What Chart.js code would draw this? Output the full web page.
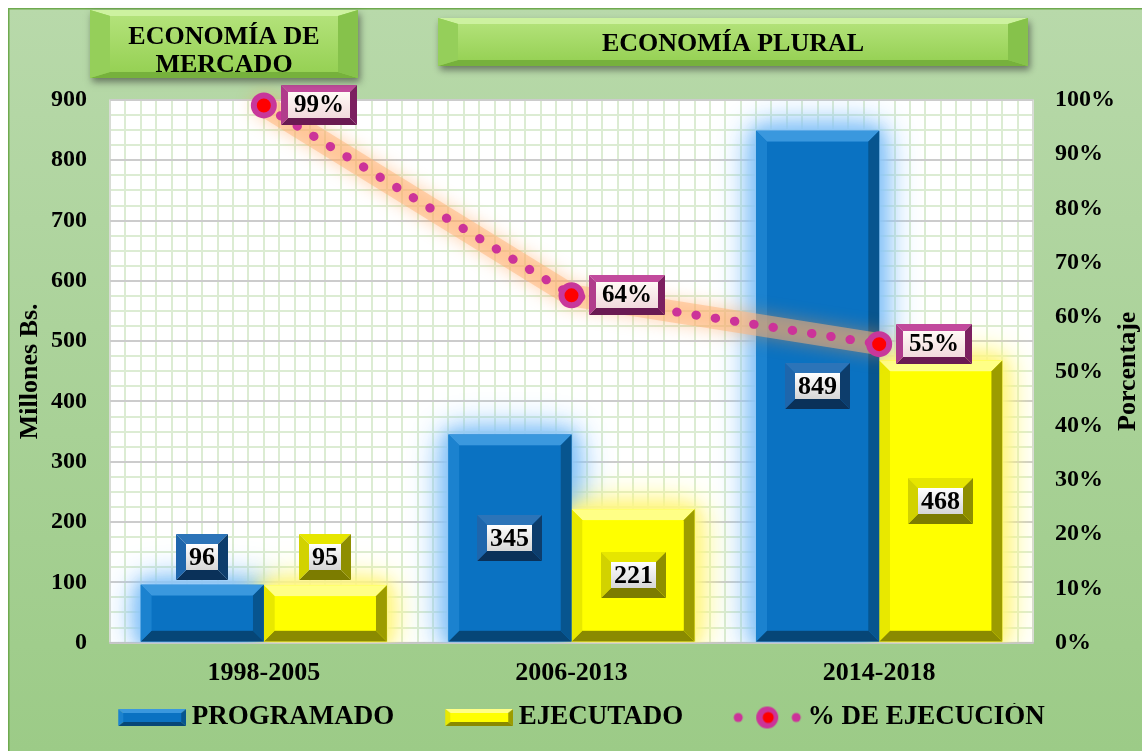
<!DOCTYPE html>
<html>
<head>
<meta charset="utf-8">
<script src="https://cdn.jsdelivr.net/npm/chart.js@4.4.1/dist/chart.umd.min.js"></script>
<style>
html,body{margin:0;padding:0;background:#ffffff;}
#wrap{width:1142px;height:751px;position:relative;}
canvas{display:block;}
</style>
</head>
<body>
<div id="wrap"><canvas id="c" width="1142" height="751"></canvas></div>
<script>
// ---------------- data ----------------
const categories = ['1998-2005', '2006-2013', '2014-2018'];
const programado = [96, 345, 849];
const ejecutado = [95, 221, 468];
const ejecucion = [0.99, 0.64, 0.55];
const seriesNames = ['PROGRAMADO', 'EJECUTADO', '% DE EJECUCIÓN'];
const leftAxisTitle = 'Millones Bs.';
const rightAxisTitle = 'Porcentaje';
const bannerTexts = [['ECONOMÍA DE', 'MERCADO'], ['ECONOMÍA PLURAL']];

// ---------------- styling ----------------
const FONT = '"Liberation Serif", "Times New Roman", serif';
const BLUE = {face:'#0a72c2', top:'#3a98de', left:'#1b82cf', right:'#07558f', bottom:'#064677'};
const YELLOW = {face:'#ffff00', top:'#ffff86', left:'#e8e800', right:'#9c9c00', bottom:'#8a8a00'};
const BLUE_LBL = {top:'#2c74b8', left:'#1e66ac', right:'#0d3d6c', bottom:'#0a3159'};
const YEL_LBL = {top:'#e6e600', left:'#d2d200', right:'#8e8e00', bottom:'#7c7c00'};
const MAG_LBL = {top:'#c24a9c', left:'#b13c8c', right:'#7c2060', bottom:'#6a1a52'};
const GREEN_BN = {top:'#cdf2a0', left:'#95cf5a', right:'#86c24b', bottom:'#76b13c'};
const MAGENTA = '#cc3399';
const LEAD = 58;          // transparent lead inside legend icons (item spacing)
const ICON_OVER = 8;      // icon overhang so text sits close to the swatch
const LEGEND_SHIFT = 26;  // recentre the visible legend row

function poly(ctx, pts, fill){
  ctx.beginPath();
  ctx.moveTo(pts[0][0], pts[0][1]);
  for (let i = 1; i < pts.length; i++) ctx.lineTo(pts[i][0], pts[i][1]);
  ctx.closePath();
  ctx.fillStyle = fill; ctx.fill();
}
function bevelBox(ctx, l, t, w, h, bx, by, c, face){
  const r = l + w, b = t + h;
  bx = Math.min(bx, w / 2); by = Math.min(by, h / 2);
  poly(ctx, [[l,t],[r,t],[r-bx,t+by],[l+bx,t+by]], c.top);
  poly(ctx, [[l,b],[r,b],[r-bx,b-by],[l+bx,b-by]], c.bottom);
  poly(ctx, [[l,t],[l+bx,t+by],[l+bx,b-by],[l,b]], c.left);
  poly(ctx, [[r,t],[r-bx,t+by],[r-bx,b-by],[r,b]], c.right);
  ctx.fillStyle = face || c.face;
  ctx.fillRect(l + bx, t + by, w - 2 * bx, h - 2 * by);
}
function labelBox(ctx, cx, cy, text, fontSize, colors, faceTop, faceBot, bev, padX, h){
  ctx.save();
  ctx.font = 'bold ' + fontSize + 'px ' + FONT;
  const tw = ctx.measureText(text).width;
  const w = Math.round(tw + 2 * padX + 2 * bev);
  const l = Math.round(cx - w / 2), t = Math.round(cy - h / 2);
  const g = ctx.createLinearGradient(0, t + bev, 0, t + h - bev);
  g.addColorStop(0, faceTop); g.addColorStop(1, faceBot);
  bevelBox(ctx, l, t, w, h, bev, bev, colors, g);
  ctx.fillStyle = '#000';
  ctx.textAlign = 'center'; ctx.textBaseline = 'middle';
  ctx.fillText(text, l + w / 2, t + h / 2 + 1);
  ctx.restore();
  return {w, h};
}

// legend icons
function barIcon(c){
  const cv = document.createElement('canvas');
  cv.width = LEAD + 68; cv.height = 17;
  bevelBox(cv.getContext('2d'), LEAD, 0, 68, 17, 5, 4, c);
  return cv;
}
function lineIcon(){
  const cv = document.createElement('canvas');
  cv.width = LEAD + 68; cv.height = 28;
  const x = cv.getContext('2d');
  x.fillStyle = MAGENTA;
  [LEAD + 4, LEAD + 62].forEach(px => { x.beginPath(); x.arc(px, 14, 4.5, 0, Math.PI * 2); x.fill(); });
  x.beginPath(); x.arc(LEAD + 33, 14, 11, 0, Math.PI * 2); x.fill();
  x.fillStyle = '#ff0000';
  x.beginPath(); x.arc(LEAD + 34, 14, 5.5, 0, Math.PI * 2); x.fill();
  return cv;
}
const legendIcons = [barIcon(BLUE), barIcon(YELLOW), lineIcon()];

// ---------------- plugins ----------------
const backgroundPlugin = {
  id: 'bgPlot',
  afterLayout(chart){
    if (chart.legend) { chart.legend.left -= LEGEND_SHIFT; chart.legend.right -= LEGEND_SHIFT; }
  },
  beforeDraw(chart){
    const {ctx, chartArea: a, width, height} = chart;
    ctx.save();
    ctx.fillStyle = '#ffffff'; ctx.fillRect(0, 0, width, height);
    const g = ctx.createLinearGradient(0, 8, 0, height);
    g.addColorStop(0, '#b8d9aa'); g.addColorStop(1, '#9ccb87');
    ctx.fillStyle = g; ctx.fillRect(8, 8, width - 8, height - 8);
    ctx.strokeStyle = '#6faa4f'; ctx.lineWidth = 1.5;
    ctx.strokeRect(8.75, 8.75, width, height);
    // plot area
    ctx.fillStyle = '#ffffff'; ctx.fillRect(a.left, a.top, a.width, a.height);
    ctx.strokeStyle = '#dcecd3'; ctx.lineWidth = 2;
    const ys = chart.scales.y;
    for (let v = 0; v <= ys.max; v += 25) {
      const py = Math.round(ys.getPixelForValue(v));
      ctx.beginPath(); ctx.moveTo(a.left, py); ctx.lineTo(a.right, py); ctx.stroke();
    }
    const n = categories.length * 20;
    for (let k = 0; k <= n; k++) {
      const px = Math.round(a.left + k * a.width / n);
      ctx.beginPath(); ctx.moveTo(px, a.top); ctx.lineTo(px, a.bottom); ctx.stroke();
    }
    ctx.strokeStyle = '#d6d6d6'; ctx.lineWidth = 1.5;
    ctx.strokeRect(a.left, a.top, a.width, a.height);
    ctx.restore();
  }
};

const glowPlugin = {
  id: 'glow',
  beforeDatasetsDraw(chart){
    const ctx = chart.ctx, a = chart.chartArea;
    ctx.save();
    ctx.beginPath(); ctx.rect(a.left, a.top, a.width, a.height); ctx.clip();
    chart.data.datasets.forEach((ds, di) => {
      if (ds.type === 'line') return;
      const meta = chart.getDatasetMeta(di);
      meta.data.forEach(el => {
        const p = el.getProps(['x', 'y', 'base', 'width'], true);
        const t = Math.min(p.y, p.base), h = Math.abs(p.base - p.y);
        ctx.save();
        ctx.shadowColor = ds.glowColor; ctx.fillStyle = ds.glowColor;
        [40, 30, 20, 12].forEach(bl => {
          ctx.shadowBlur = bl;
          ctx.fillRect(p.x - p.width / 2, t, p.width, h);
        });
        ctx.restore();
      });
    });
    ctx.restore();
  },
  beforeDatasetDraw(chart, args){
    const ds = chart.data.datasets[args.index];
    if (ds.type !== 'line') return;
    const ctx = chart.ctx;
    const pts = args.meta.data;
    ctx.save();
    ctx.strokeStyle = 'rgba(255,180,120,0.5)';
    ctx.lineWidth = 22; ctx.lineCap = 'round'; ctx.lineJoin = 'round';
    ctx.shadowColor = 'rgba(255,150,60,0.85)'; ctx.shadowBlur = 18;
    ctx.beginPath();
    pts.forEach((p, i) => i ? ctx.lineTo(p.x, p.y) : ctx.moveTo(p.x, p.y));
    ctx.stroke();
    ctx.restore();
  },
  afterDatasetDraw(chart, args){
    const ctx = chart.ctx;
    const ds = chart.data.datasets[args.index];
    if (ds.type === 'line') return;
    const c = ds.bevelColors;
    args.meta.data.forEach(el => {
      const p = el.getProps(['x', 'y', 'base', 'width'], true);
      const l = p.x - p.width / 2, t = Math.min(p.y, p.base);
      const h = Math.abs(p.base - p.y);
      bevelBox(ctx, l, t, p.width, h, 11, 11, c);
    });
  }
};

const labelsPlugin = {
  id: 'valueLabels',
  afterDatasetsDraw(chart){
    const ctx = chart.ctx;
    chart.data.datasets.forEach((ds, di) => {
      const meta = chart.getDatasetMeta(di);
      meta.data.forEach((el, i) => {
        if (ds.type === 'line') {
          const txt = Math.round(ds.data[i] * 100) + '%';
          ctx.save();
          ctx.font = 'bold 25px ' + FONT;
          const tw = ctx.measureText(txt).width;
          ctx.restore();
          const w = tw + 12 + 14;
          labelBox(ctx, el.x + 17 + w / 2, el.y, txt, 25, MAG_LBL, '#fffaf6', '#f2dadd', 7, 6, 40);
        } else {
          const p = el.getProps(['x', 'y', 'base'], true);
          const top = Math.min(p.y, p.base), h = Math.abs(p.base - p.y);
          const cy = h < 70 ? top - 5 - 23 : top + h / 2;
          labelBox(ctx, p.x, cy, String(ds.data[i]), 26, ds.labelColors, '#ffffff', '#d6d6d6', 10, 3, 46);
        }
      });
    });
  }
};

const decorPlugin = {
  id: 'decor',
  afterDraw(chart){
    const ctx = chart.ctx;
    const a = chart.chartArea;
    const banners = [
      {x: 90, y: 10, w: 268, h: 68, dy: 7, lines: bannerTexts[0]},
      {x: 438, y: 18, w: 590, h: 48, dy: 2, lines: bannerTexts[1]}
    ];
    banners.forEach(bn => {
      ctx.save();
      ctx.shadowColor = 'rgba(40,40,40,0.55)'; ctx.shadowBlur = 7;
      ctx.shadowOffsetX = 2; ctx.shadowOffsetY = 4;
      ctx.fillStyle = '#92d050'; ctx.fillRect(bn.x, bn.y, bn.w, bn.h);
      ctx.restore();
      const g = ctx.createLinearGradient(0, bn.y, 0, bn.y + bn.h);
      g.addColorStop(0, '#b6e47e'); g.addColorStop(1, '#93cf50');
      bevelBox(ctx, bn.x, bn.y, bn.w, bn.h, 20, 6, GREEN_BN, g);
      ctx.save();
      ctx.fillStyle = '#000';
      ctx.font = 'bold 26px ' + FONT;
      ctx.textAlign = 'center'; ctx.textBaseline = 'middle';
      const lh = 28;
      const cy = bn.y + bn.h / 2 + bn.dy;
      bn.lines.forEach((ln, i) => {
        ctx.fillText(ln, bn.x + bn.w / 2, cy + (i - (bn.lines.length - 1) / 2) * lh);
      });
      ctx.restore();
    });
    ctx.save();
    ctx.fillStyle = '#000';
    ctx.font = 'bold 26px ' + FONT;
    ctx.textAlign = 'center'; ctx.textBaseline = 'middle';
    const cy = (a.top + a.bottom) / 2;
    ctx.save();
    ctx.translate(30, cy); ctx.rotate(-Math.PI / 2);
    ctx.fillText(leftAxisTitle, 0, 0);
    ctx.restore();
    ctx.translate(chart.width - 14, cy); ctx.rotate(-Math.PI / 2);
    ctx.fillText(rightAxisTitle, 0, 0);
    ctx.restore();
  }
};

// ---------------- chart ----------------
const tickFont = {family: FONT, size: 24, weight: 'bold'};
new Chart(document.getElementById('c'), {
  type: 'bar',
  data: {
    labels: categories,
    datasets: [
      {label: seriesNames[0], data: programado, backgroundColor: BLUE.face, yAxisID: 'y', order: 1,
       categoryPercentage: 0.8, barPercentage: 1.0, glowColor: 'rgba(140,198,248,1)',
       bevelColors: BLUE, labelColors: BLUE_LBL, borderWidth: 0},
      {label: seriesNames[1], data: ejecutado, backgroundColor: YELLOW.face, yAxisID: 'y', order: 2,
       categoryPercentage: 0.8, barPercentage: 1.0, glowColor: 'rgba(255,246,130,1)',
       bevelColors: YELLOW, labelColors: YEL_LBL, borderWidth: 0},
      {type: 'line', label: seriesNames[2], data: ejecucion, yAxisID: 'y1', order: 0,
       borderColor: MAGENTA, borderWidth: 9, borderDash: [0.5, 19], borderCapStyle: 'round',
       pointRadius: 10, pointHoverRadius: 10, pointBorderWidth: 6, pointBackgroundColor: '#ff0000',
       pointBorderColor: '#c8379b', fill: false, tension: 0, clip: false}
    ]
  },
  options: {
    responsive: false,
    animation: false,
    devicePixelRatio: 1,
    layout: {padding: {left: 28, right: 5, top: 100, bottom: 10}},
    plugins: {
      tooltip: {enabled: false},
      legend: {
        position: 'bottom',
        labels: {
          usePointStyle: true,
          pointStyleWidth: LEAD + 68 - 2 * ICON_OVER,
          padding: 1,
          color: '#000',
          font: {family: FONT, size: 27, weight: 'bold'},
          generateLabels(chart){
            const items = Chart.defaults.plugins.legend.labels.generateLabels(chart);
            items.forEach(it => { it.pointStyle = legendIcons[it.datasetIndex]; it.lineWidth = 0; });
            items.sort((p, q) => p.datasetIndex - q.datasetIndex);
            return items;
          }
        }
      }
    },
    scales: {
      x: {
        grid: {display: false, drawTicks: false},
        border: {display: true, color: '#c4c4c4', width: 1.5},
        ticks: {color: '#000', font: {family: FONT, size: 26, weight: 'bold', lineHeight: 1.4}, padding: 12}
      },
      y: {
        position: 'left', min: 0, max: 900,
        ticks: {stepSize: 100, color: '#000', font: tickFont, padding: 23},
        grid: {color: '#cccccc', lineWidth: 2, drawTicks: false},
        border: {display: false}
      },
      y1: {
        position: 'right', min: 0, max: 1,
        ticks: {stepSize: 0.1, color: '#000', font: tickFont, padding: 22,
                callback: v => Math.round(v * 100) + '%'},
        grid: {drawOnChartArea: false, drawTicks: false},
        border: {display: false}
      }
    }
  },
  plugins: [backgroundPlugin, glowPlugin, labelsPlugin, decorPlugin]
});
</script>
</body>
</html>
